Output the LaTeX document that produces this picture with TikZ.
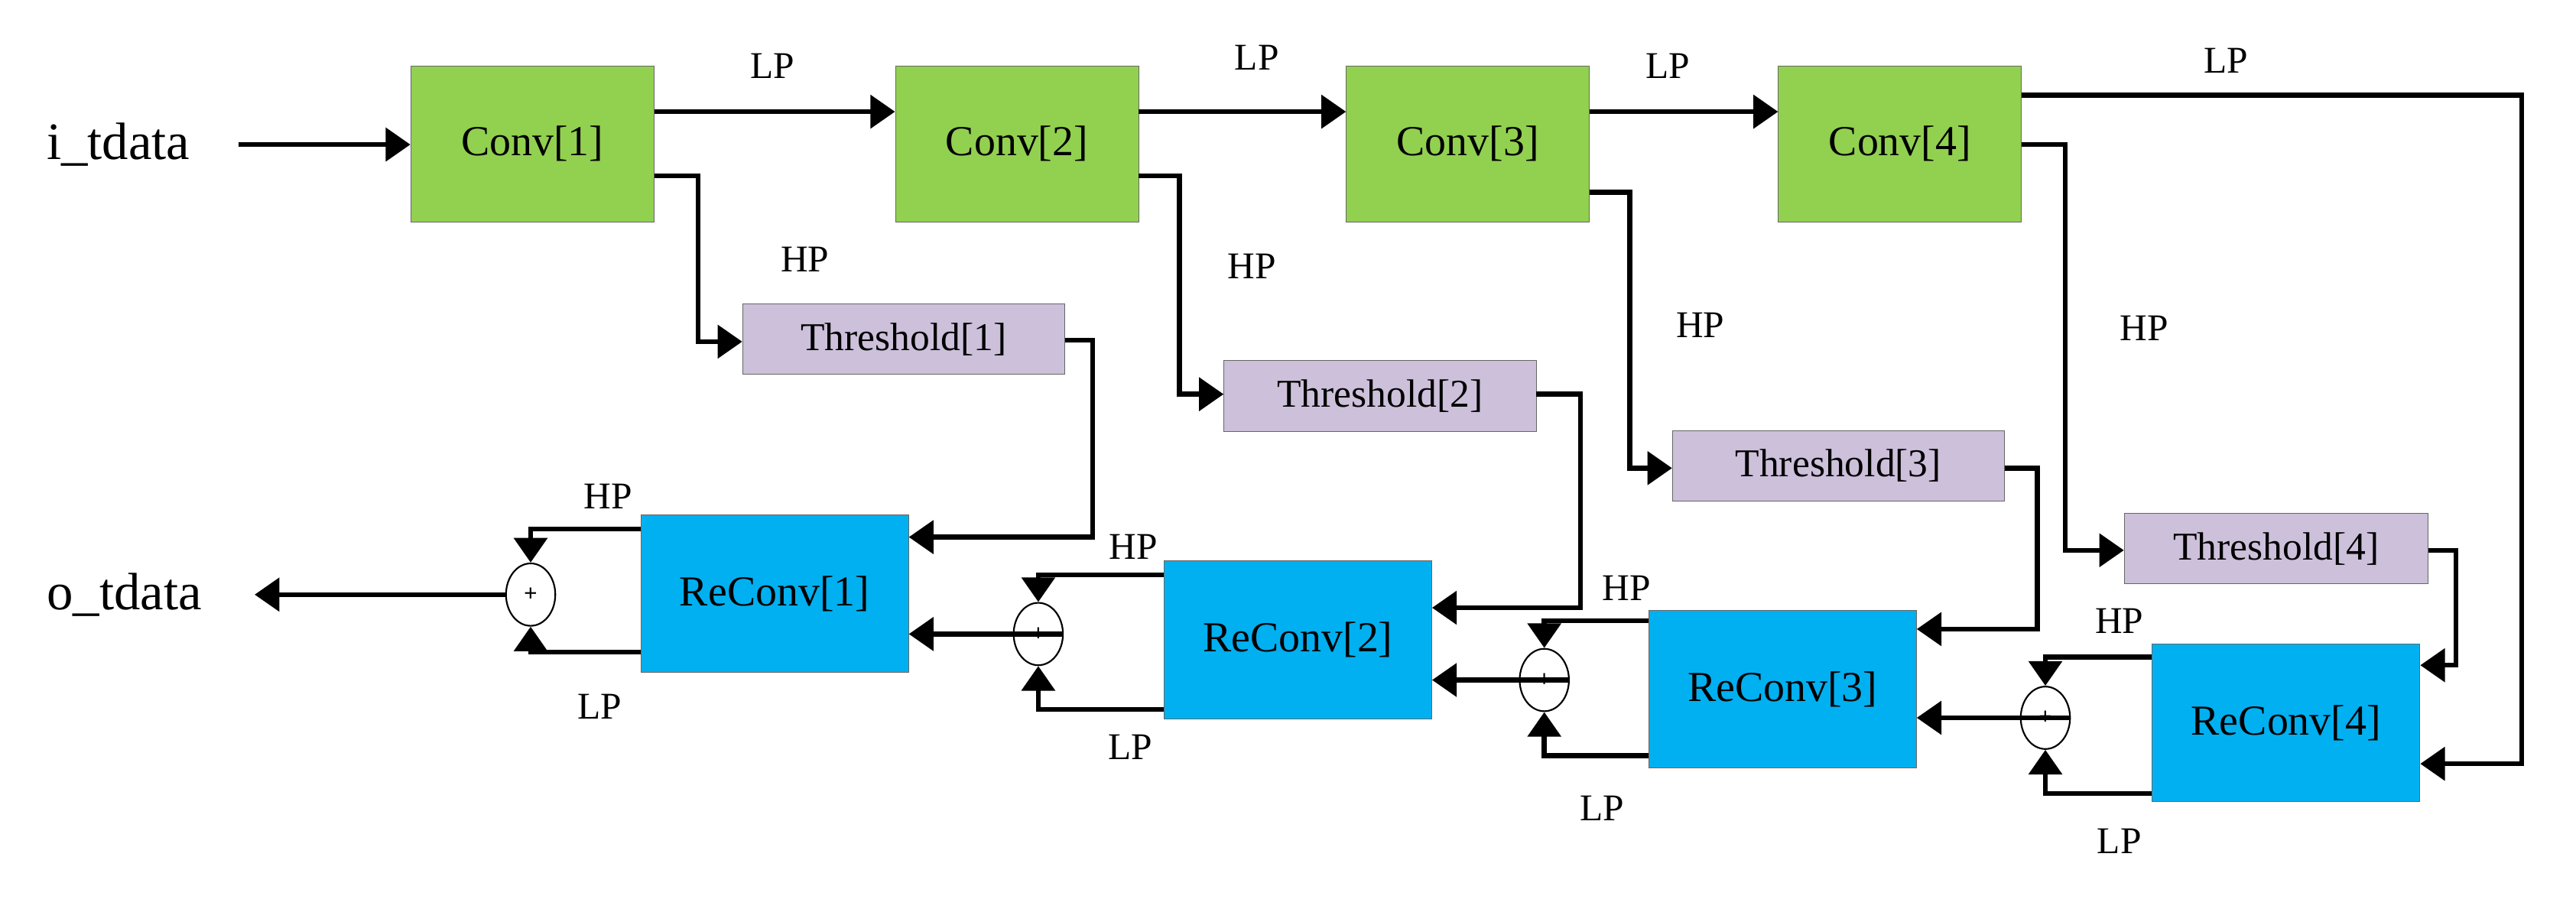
\documentclass[tikz,border=0pt]{standalone}
\usepackage{fontspec}
\setmainfont{Liberation Serif}
\usetikzlibrary{arrows.meta,shapes.geometric}
\definecolor{cgreen}{HTML}{92D050}
\definecolor{clav}{HTML}{CCC0DA}
\definecolor{cblue}{HTML}{00B0F0}
\begin{document}
\begin{tikzpicture}[x=1pt,y=-1pt,
  conn/.style={line width=3pt,-{Triangle[length=15pt,width=20pt]}},
  wire/.style={line width=3pt},
  conv/.style={draw=black!60,fill=cgreen,minimum width=148pt,minimum height=95pt,inner sep=0pt,font=\fontsize{26}{30}\selectfont},
  thr/.style={draw=black!60,fill=clav,minimum height=43pt,inner sep=0pt,font=\fontsize{24}{28}\selectfont},
  rec/.style={draw=black!60,fill=cblue,minimum width=163pt,minimum height=96pt,inner sep=0pt,font=\fontsize{26}{30}\selectfont},
  add/.style={draw,ellipse,line width=1pt,minimum width=30pt,minimum height=38pt,inner sep=0pt,fill=white},
  lab/.style={font=\fontsize{23}{27}\selectfont},
  io/.style={font=\fontsize{32}{36}\selectfont}]
\useasboundingbox (0,0) rectangle (1568,547);
% boxes
\node[conv] (c1) at (324,87.5) {Conv[1]};
\node[conv] (c2) at (619,87.5) {Conv[2]};
\node[conv] (c3) at (893.5,87.5) {Conv[3]};
\node[conv] (c4) at (1156.5,87.5) {Conv[4]};
\node[thr,minimum width=196pt] (t1) at (550,206.5) {Threshold[1]};
\node[thr,minimum width=190pt] (t2) at (840,241) {Threshold[2]};
\node[thr,minimum width=202pt] (t3) at (1119,283.5) {Threshold[3]};
\node[thr,minimum width=185pt] (t4) at (1385.5,334) {Threshold[4]};
\node[rec] (r1) at (471.5,361.5) {ReConv[1]};
\node[rec] (r2) at (790,389.5) {ReConv[2]};
\node[rec] (r3) at (1085,419.5) {ReConv[3]};
\node[rec] (r4) at (1391.5,440) {ReConv[4]};
\node[add] (a1) at (323,362) {\textbf{\Large +}};
\node[add] (a2) at (632,386) {\textbf{\Large +}};
\node[add] (a3) at (940,414) {\textbf{\Large +}};
\node[add] (a4) at (1245,437) {\textbf{\Large +}};
\node[io,anchor=west] (in) at (25,88) {i\_tdata};
\node[io,anchor=west] (out) at (25,362) {o\_tdata};
\coordinate (inend) at (145,88);
\coordinate (outend) at (155,362);
% input/output
\draw[conn] (inend) -- (c1.west|-inend);
\draw[conn] (a1.west) -- (outend);
% LP top chain
\draw[conn] (c1.east|-0,68) -- (c2.west|-0,68);
\draw[conn] (c2.east|-0,68) -- (c3.west|-0,68);
\draw[conn] (c3.east|-0,68) -- (c4.west|-0,68);
\draw[conn] (c4.east|-0,58) -- (1535,58) -- (1535,465) -- (r4.east|-0,465);
% HP to thresholds
\draw[conn] (c1.east|-0,107) -- (425,107) -- (425,208) -- (t1.west|-0,208);
\draw[conn] (c2.east|-0,107) -- (718,107) -- (718,240) -- (t2.west|-0,240);
\draw[conn] (c3.east|-0,117) -- (992,117) -- (992,285) -- (t3.west|-0,285);
\draw[conn] (c4.east|-0,88) -- (1257,88) -- (1257,335) -- (t4.west|-0,335);
% thresholds to reconv
\draw[conn] (t1.east|-0,207) -- (665,207) -- (665,327) -- (r1.east|-0,327);
\draw[conn] (t2.east|-0,240) -- (962,240) -- (962,370) -- (r2.east|-0,370);
\draw[conn] (t3.east|-0,285) -- (1240,285) -- (1240,383) -- (r3.east|-0,383);
\draw[conn] (t4.east|-0,335) -- (1495,335) -- (1495,405) -- (r4.east|-0,405);
% adders to reconv
\draw[conn] (a2.east) -- (r1.east|-a2);
\draw[conn] (a3.east) -- (r2.east|-a3);
\draw[conn] (a4.east) -- (r3.east|-a4);
% reconv to adders
\draw[conn] (r1.west|-0,322) -- (323,322) -- (a1.north);
\draw[conn] (r1.west|-0,397) -- (323,397) -- (a1.south);
\draw[conn] (r2.west|-0,350) -- (632,350) -- (a2.north);
\draw[conn] (r2.west|-0,432) -- (632,432) -- (a2.south);
\draw[conn] (r3.west|-0,378) -- (940,378) -- (a3.north);
\draw[conn] (r3.west|-0,460) -- (940,460) -- (a3.south);
\draw[conn] (r4.west|-0,400) -- (1245,400) -- (a4.north);
\draw[conn] (r4.west|-0,483) -- (1245,483) -- (a4.south);
% labels
\node[lab] (l1) at (470,40) {LP};
\node[lab] (l2) at (765,35) {LP};
\node[lab] (l3) at (1015,40) {LP};
\node[lab] (l4) at (1355,37) {LP};
\node[lab] (h1) at (490,158) {HP};
\node[lab] (h2) at (762,162) {HP};
\node[lab] (h3) at (1035,198) {HP};
\node[lab] (h4) at (1305,200) {HP};
\node[lab] (ah1) at (370,302) {HP};
\node[lab] (ah2) at (690,333) {HP};
\node[lab] (ah3) at (990,358) {HP};
\node[lab] (ah4) at (1290,378) {HP};
\node[lab] (al1) at (365,430) {LP};
\node[lab] (al2) at (688,455) {LP};
\node[lab] (al3) at (975,492) {LP};
\node[lab] (al4) at (1290,512) {LP};
\end{tikzpicture}
\end{document}
